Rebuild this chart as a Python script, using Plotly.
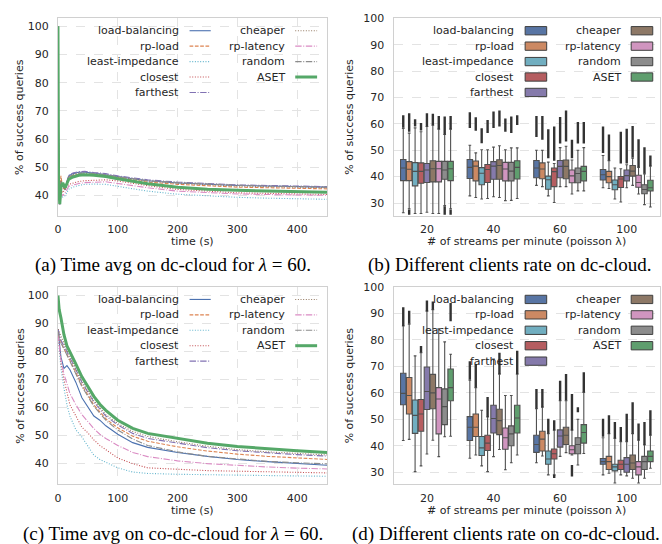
import plotly.graph_objects as go

W, H = 662, 544

methods = ["load-balancing", "rp-load", "least-impedance", "closest", "farthest",
           "cheaper", "rp-latency", "random", "ASET"]
line_colors = ["#4C72B0", "#DD8452", "#64B5CD", "#C44E52", "#8172B3",
               "#937860", "#DA8BC3", "#8C8C8C", "#55A868"]
box_colors = ["#5875A4", "#CC8963", "#71AEC0", "#B55D60", "#857AAB",
              "#8D7866", "#D095BF", "#8C8C8C", "#5F9E6E"]
line_dashes = ["solid", "3.7px,1.6px", "1px,1.65px", "1px,1.65px", "6.4px,1.6px,1px,1.6px",
               "1px,1.65px", "6.4px,1.6px,1px,1.6px", "6.4px,1.6px,1px,1.6px", "solid"]
line_widths = [1.1, 1.1, 1.1, 1.1, 1.1, 1.1, 1.1, 1.1, 3.0]

rate_labels = ["20", "40", "60", "100"]

# ---------------- (a) time average on dc-cloud ----------------
time_a = [0, 1, 3, 5, 8, 12, 18, 25, 35, 45, 60, 80, 100, 125, 150, 200, 250, 300, 350, 400, 450]
a_load_balancing = [100, 60, 41, 45, 43.5, 42, 47, 47.8, 48.3, 48.3, 48, 47.5, 46.8, 46, 45.3, 44.5, 44, 43.6, 43.4, 43.2, 43.0]
a_rp_load = [100, 56, 42, 47, 42.5, 42.5, 46.5, 47.2, 47.6, 47.6, 47.4, 47, 46.3, 45.5, 44.8, 44, 43.4, 43, 42.8, 42.6, 42.4]
a_least_impedance = [100, 46, 36.5, 40, 39.5, 40, 42.3, 43, 43.6, 44, 44.1, 44, 43.3, 42.4, 41.6, 40.5, 39.9, 39.4, 39.1, 38.9, 38.7]
a_closest = [100, 50, 38, 42, 41, 42.5, 44, 44.5, 45, 45.3, 45.5, 45.6, 45.2, 44.3, 43.5, 42.2, 41.5, 41, 40.8, 40.6, 40.4]
a_farthest = [100, 58, 40, 44, 44, 43, 47.2, 48, 48.5, 48.6, 48.2, 47.8, 47, 46.3, 45.6, 44.8, 44.2, 43.8, 43.6, 43.4, 43.2]
a_cheaper = [100, 57, 41, 46, 43, 42.5, 46.8, 47.5, 48, 48, 47.7, 47.3, 46.6, 45.8, 45.2, 44.4, 43.8, 43.4, 43.2, 43, 42.8]
a_rp_latency = [100, 48, 36.5, 41, 40, 41, 43.3, 43.8, 44.3, 44.6, 44.8, 44.9, 44.3, 43.5, 42.8, 41.6, 41, 40.6, 40.4, 40.2, 40.1]
a_random = [100, 55, 40, 45, 43.5, 43, 46.6, 47.3, 47.8, 48, 47.8, 47.4, 46.7, 46, 45.3, 44.6, 44.1, 43.7, 43.4, 43.2, 43.0]
a_aset = [100, 45, 37, 43, 44.5, 42.8, 45.8, 46.6, 47.2, 47.4, 47.2, 46.8, 46, 45, 44.2, 43, 42.3, 41.9, 41.6, 41.4, 41.2]

# ---------------- (c) time average on co-dc-cloud ----------------
time_c = [0, 2, 5, 10, 15, 20, 30, 40, 50, 60, 70, 80, 100, 125, 150, 200, 250, 300, 350, 400, 450]
c_load_balancing = [88, 84, 78, 74, 75, 73.5, 69, 63.5, 60, 57, 55.5, 53.5, 50.5, 47.5, 45.8, 44, 42.6, 41.5, 40.7, 40, 39.4]
c_rp_load = [86, 85, 83, 81, 79, 77, 72.5, 68, 64.5, 61, 58.5, 56, 52.8, 49.8, 48, 46, 44.5, 43.4, 42.6, 42, 41.5]
c_least_impedance = [86, 80, 74, 67, 61, 57, 52, 49.5, 46, 43, 41.5, 40.5, 38.5, 37, 36.5, 36.2, 36, 35.8, 35.7, 35.6, 35.5]
c_closest = [88, 82, 76, 70, 66, 61, 57, 53, 51, 48.5, 46.5, 45, 42, 40, 38.5, 38, 37.5, 37.3, 37.1, 36.9, 36.7]
c_farthest = [88, 86, 84, 82, 80, 78, 73.5, 69, 65.5, 62, 59.5, 57, 53.8, 50.8, 49, 47.3, 45.7, 44.6, 43.8, 43.2, 42.7]
c_cheaper = [88, 87, 85, 83, 80.5, 78.5, 74, 69.5, 66, 62.5, 60, 57.5, 54.3, 51.5, 49.7, 47.8, 46.2, 45, 44.2, 43.6, 43.1]
c_rp_latency = [86, 82, 77, 72, 68, 65, 61, 57.5, 55, 52.5, 50.5, 49, 46.5, 44, 42.5, 41, 40, 39.3, 38.8, 38.4, 38.1]
c_random = [87, 85, 83, 81, 78.5, 76.5, 72, 67.5, 64, 60.5, 58, 55.5, 52, 48.8, 46.5, 44.2, 42.6, 41.6, 40.8, 40.3, 39.9]
c_aset = [100, 95, 92, 86, 82, 80, 75.5, 71, 67.3, 64, 61.2, 59, 55.5, 52.6, 50.8, 49.1, 47.3, 46.1, 45.3, 44.6, 44.0]

# ---------------- (b) box stats on dc-cloud (rows: methods, cols: rates) ----------------
b_q1 = [[38.5, 39.3, 39.6, 38.7], [38.5, 38.4, 39.2, 37.7], [36.5, 36.9, 35.2, 35.0],
        [37.5, 37.8, 36.2, 35.9], [37.8, 39.0, 39.6, 38.4], [38.0, 39.0, 39.2, 40.2],
        [38.0, 38.4, 37.7, 36.0], [39.0, 38.4, 37.7, 33.5], [38.5, 39.1, 38.4, 34.6]]
b_med = [[43.3, 43.5, 43.3, 40.7], [42.8, 44.0, 42.9, 40.0], [42.0, 41.3, 38.8, 36.9],
         [42.0, 42.7, 41.9, 39.1], [42.5, 44.0, 43.9, 40.4], [43.0, 44.2, 43.9, 42.1],
         [43.0, 42.9, 40.3, 37.8], [42.5, 42.1, 41.2, 35.1], [43.0, 43.5, 42.0, 35.8]]
b_q3 = [[46.5, 46.5, 46.1, 42.7], [45.7, 45.9, 45.2, 42.0], [45.3, 43.4, 40.2, 38.7],
        [45.2, 44.6, 43.3, 40.0], [45.0, 45.7, 46.1, 42.5], [46.0, 46.4, 46.3, 44.2],
        [45.8, 45.4, 42.5, 40.5], [45.8, 45.4, 43.3, 36.9], [45.8, 46.0, 43.9, 38.6]]
b_lo = [[26.3, 32.7, 36.7, 35.8], [27.8, 32.1, 36.2, 35.5], [26.0, 31.5, 32.7, 31.5],
        [26.0, 31.7, 30.2, 30.4], [26.5, 32.4, 36.2, 35.8], [26.0, 32.1, 36.2, 36.7],
        [26.0, 30.9, 33.4, 33.4], [29.0, 31.0, 34.6, 29.4], [27.8, 31.7, 34.6, 28.5]]
b_hi = [[58.3, 51.9, 50.0, 48.0], [56.5, 49.0, 50.0, 46.0], [58.5, 50.2, 45.5, 43.3],
        [57.0, 50.2, 45.0, 43.0], [59.0, 51.2, 51.0, 44.5], [59.5, 51.7, 51.5, 47.0],
        [58.0, 50.2, 46.3, 43.5], [56.0, 50.9, 50.0, 41.0], [58.0, 50.9, 51.0, 44.0]]
b_out_hi = [[(58.5, 63.3), (58.4, 64.4), (55, 63), (49, 59)],
            [(57, 64), (57.4, 62.5), (54, 63), (46, 56)],
            [(59, 61.8), (52.7, 58.3), (47, 58), None],
            [(57.5, 60.3), (56.5, 61.5), (46, 59), (45, 57)],
            [(59, 64), (58.4, 64.7), (52.6, 62.6), (45, 58.2)],
            [(59.5, 63.8), (59, 65.1), (53.3, 65.1), (47.3, 59.2)],
            [(58, 63), (57, 62), (47, 54), (43.6, 54.2)],
            [(56, 62.8), (56.5, 62.8), (52.6, 60.7), (41.1, 51.1)],
            [(58, 63), (59.6, 63.3), (52.6, 60.7), (44, 48)]]
b_out_lo = [[None, None, None, None], [(25.5, 27.5), None, None, None],
            [None, None, None, None], [None, None, None, None],
            [None, None, None, None], [None, None, None, None],
            [None, None, None, None], [(25.5, 28.8), None, None, None],
            [(25.5, 27.5), None, None, None]]

# ---------------- (d) box stats on co-dc-cloud ----------------
d_q1 = [[55.5, 42, 37.5, 33], [52, 43.5, 38, 31], [44.7, 36.3, 33, 30.5],
        [45.5, 38.2, 35, 31], [53.7, 44.8, 39.5, 30], [54, 44.2, 40.5, 31],
        [44.5, 38.7, 37, 29], [48, 40, 37, 31], [57, 44.8, 41, 34]]
d_med = [[59.8, 47, 40.5, 34], [59, 47, 42.5, 34], [51.5, 39.2, 35, 32],
         [52, 41, 37, 33], [60.5, 50.3, 43.7, 33], [60, 49.5, 44, 33.5],
         [57.7, 43, 38.5, 32], [54.8, 44.5, 40.5, 34], [62, 50.5, 45, 36]]
d_q3 = [[67.4, 51, 44, 35.2], [65.8, 52, 45.5, 36], [57.3, 43.5, 38, 33],
        [57.5, 44, 38.8, 34.5], [69.8, 55.3, 46, 35.5], [67, 53.8, 47, 36.5],
        [62, 46.7, 40, 34], [61.5, 47.5, 43, 36], [69, 55.3, 48, 38]]
d_lo = [[42, 35.3, 33.6, 29], [42.4, 36.5, 36.1, 29.6], [30.2, 32.4, 29, 25.9],
        [32.4, 30.2, 29, 29], [36.9, 35.9, 36, 28.6], [42.1, 38.6, 37.4, 27.7],
        [35.9, 30.9, 36.5, 25.9], [43.4, 33.6, 32.7, 27.7], [43.6, 36.5, 37.1, 31.5]]
d_hi = [[85.3, 64.8, 54, 43], [86, 62, 54.6, 44.6], [74, 53.4, 44.6, 42.8],
        [75.2, 50.9, 45.9, 41.5], [90.9, 72.8, 57, 41.5], [91.5, 67.1, 57, 44.6],
        [84.2, 59, 45.9, 42.1], [79.3, 59, 50, 40.3], [74.6, 67.1, 60.2, 44]]
d_out_hi = [[(85.3, 92.4), (65, 72), (54, 61.5), (43.4, 50.2)],
            [(86.1, 91.1), (62.1, 70.9), (54.6, 61.5), (44.6, 51.5)],
            [None, None, (44.6, 50.2), (42.8, 49)],
            [(75.2, 77.7), (50.9, 58.4), (45.9, 49.6), (41.5, 47.1)],
            [(90.9, 94.9), None, (57, 64.6), (41.5, 52.1)],
            [(91.5, 94.6), (67.1, 75.2), (57.1, 67.1), (44.6, 56.5)],
            [None, None, (45.9, 59.6), (42.1, 48.4)],
            [None, None, (52.7, 54.6), (40.3, 49)],
            [(87.1, 94), (67.1, 75.9), (60.2, 67.8), (44, 53.4)]]
d_out_lo = [[None, None, None, None], [None, None, None, None],
            [None, None, None, None], [None, None, (27.8, 29), None],
            [None, None, None, None], [None, None, None, None],
            [None, None, (28.4, 32.7), None], [None, None, None, None],
            [None, None, None, None]]

captions = ["(a) Time avg on dc-cloud for <i>λ</i> = 60.",
            "(b) Different clients rate on dc-cloud.",
            "(c) Time avg on co-dc-cloud for <i>λ</i> = 60.",
            "(d) Different clients rate on co-dc-cloud."]

a_series = [a_load_balancing, a_rp_load, a_least_impedance, a_closest, a_farthest,
            a_cheaper, a_rp_latency, a_random, a_aset]
c_series = [c_load_balancing, c_rp_load, c_least_impedance, c_closest, c_farthest,
            c_cheaper, c_rp_latency, c_random, c_aset]

# ---------------- layout geometry (pixels) ----------------
def px(x):
    return x / W

def py(y):
    return 1 - y / H

LEFT_X = (54.3, 325.0)
RIGHT_X = (392.0, 660.0)
TOP_Y = (12.0, 212.0)
BOT_Y = (283.7, 483.7)

TXT = "#262626"
FONT = "DejaVu Sans"
GRID = "#e3e3e3"
SPINE = "#d0d0d0"

fig = go.Figure()

# line panels
for series, times, xa, ya in [(a_series, time_a, "x", "y"), (c_series, time_c, "x3", "y3")]:
    for m, vals in enumerate(series):
        fig.add_trace(go.Scatter(x=times, y=vals, mode="lines", xaxis=xa, yaxis=ya,
                                 line=dict(color=line_colors[m], dash=line_dashes[m],
                                           width=line_widths[m]),
                                 showlegend=False, hoverinfo="skip"))

# box panels
n = len(methods)
step = 0.8 / n
for q1, med, q3, lo, hi, ohi, olo, xa, ya in [
        (b_q1, b_med, b_q3, b_lo, b_hi, b_out_hi, b_out_lo, "x2", "y2"),
        (d_q1, d_med, d_q3, d_lo, d_hi, d_out_hi, d_out_lo, "x4", "y4")]:
    for m in range(n):
        pos = [g + (m - (n - 1) / 2) * step for g in range(len(rate_labels))]
        fig.add_trace(go.Box(x=pos, q1=q1[m], median=med[m], q3=q3[m],
                             lowerfence=lo[m], upperfence=hi[m],
                             width=step * 0.92, whiskerwidth=0.5,
                             fillcolor=box_colors[m],
                             line=dict(color="#505050", width=1.1),
                             boxpoints=False, xaxis=xa, yaxis=ya,
                             showlegend=False, hoverinfo="skip"))
        sx, sy = [], []
        for g in range(len(rate_labels)):
            for rng in (ohi[m][g], olo[m][g]):
                if rng is not None:
                    sx += [pos[g], pos[g], None]
                    sy += [rng[0], rng[1], None]
        if sx:
            fig.add_trace(go.Scatter(x=sx, y=sy, mode="lines", xaxis=xa, yaxis=ya,
                                     line=dict(color="#333333", width=2.4),
                                     showlegend=False, hoverinfo="skip"))

axis_common = dict(showline=True, mirror=True, linecolor=SPINE, linewidth=1.2,
                   gridcolor=GRID, griddash="dash", gridwidth=1, zeroline=False,
                   ticks="", tickfont=dict(family=FONT, size=11, color=TXT))

fig.update_layout(
    width=W, height=H, autosize=False,
    margin=dict(l=0, r=0, t=0, b=0),
    paper_bgcolor="white", plot_bgcolor="white",
    showlegend=False,
    xaxis=dict(domain=[px(LEFT_X[0]), px(LEFT_X[1])], range=[0, 450], anchor="y",
               tickvals=[0, 100, 200, 300, 400], ticklabelstandoff=3, **axis_common),
    yaxis=dict(domain=[py(TOP_Y[1]), py(TOP_Y[0])], range=[32.9, 103], anchor="x",
               tickvals=[40, 50, 60, 70, 80, 90, 100], ticklabelstandoff=6, **axis_common),
    xaxis2=dict(domain=[px(RIGHT_X[0]), px(RIGHT_X[1])], range=[-0.5, 3.5], anchor="y2",
                tickvals=[0, 1, 2, 3], ticktext=rate_labels, showgrid=False,
                ticklabelstandoff=3, **axis_common),
    yaxis2=dict(domain=[py(TOP_Y[1]), py(TOP_Y[0])], range=[25.2, 100.2], anchor="x2",
                tickvals=[30, 40, 50, 60, 70, 80, 90, 100], ticklabelstandoff=6, **axis_common),
    xaxis3=dict(domain=[px(LEFT_X[0]), px(LEFT_X[1])], range=[0, 450], anchor="y3",
                tickvals=[0, 100, 200, 300, 400], ticklabelstandoff=3, **axis_common),
    yaxis3=dict(domain=[py(BOT_Y[1]), py(BOT_Y[0])], range=[32.6, 103.2], anchor="x3",
                tickvals=[40, 50, 60, 70, 80, 90, 100], ticklabelstandoff=6, **axis_common),
    xaxis4=dict(domain=[px(RIGHT_X[0]), px(RIGHT_X[1])], range=[-0.5, 3.5], anchor="y4",
                tickvals=[0, 1, 2, 3], ticktext=rate_labels, showgrid=False,
                ticklabelstandoff=3, **axis_common),
    yaxis4=dict(domain=[py(BOT_Y[1]), py(BOT_Y[0])], range=[25.4, 100.2], anchor="x4",
                tickvals=[30, 40, 50, 60, 70, 80, 90, 100], ticklabelstandoff=6, **axis_common),
)

annotations = []
shapes = []

# axis titles
for (x0, x1), (y0, y1), dy, xt, yoff in [(LEFT_X, TOP_Y, 0, "time (s)", 38),
                                         (RIGHT_X, TOP_Y, 0, "# of streams per minute (poisson λ)", 44),
                                         (LEFT_X, BOT_Y, 271.7, "time (s)", 38),
                                         (RIGHT_X, BOT_Y, 271.7, "# of streams per minute (poisson λ)", 44)]:
    annotations.append(dict(text=xt, x=px((x0 + x1) / 2), y=py(238.3 + dy), xref="paper", yref="paper",
                            xanchor="center", yanchor="middle", showarrow=False,
                            font=dict(family=FONT, size=11, color=TXT)))
    annotations.append(dict(text="% of success queries", x=px(x0 - yoff), y=py((y0 + y1) / 2),
                            xref="paper", yref="paper", textangle=-90,
                            xanchor="center", yanchor="middle", showarrow=False,
                            font=dict(family=FONT, size=11, color=TXT)))

# captions
for cap, cx, cy in zip(captions, [170.5, 508.5, 170.0, 505.0], [261.7, 261.7, 533.7, 533.7]):
    annotations.append(dict(text=cap, x=px(cx), y=py(cy), xref="paper", yref="paper",
                            xanchor="center", yanchor="middle", showarrow=False,
                            font=dict(family="Liberation Serif", size=19.0, color="black")))

# legends
row_y = [25.0, 40.6, 56.2, 71.8, 87.4]
for dy, kind in [(0, "line"), (271.7, "line"), (0, "box"), (271.7, "box")]:
    if kind == "line":
        cols = [(177.7, 186.7, 208.0), (285.0, 293.0, 315.0)]
    else:
        cols = [(515.3, 524.3, 546.0), (622.7, 631.0, 652.7)]
    for m, name in enumerate(methods):
        c = 0 if m < 5 else 1
        r = m if m < 5 else m - 5
        tx, sx0, sx1 = cols[c]
        yy = row_y[r] + dy
        annotations.append(dict(text=name, x=px(tx), y=py(yy), xref="paper", yref="paper",
                                xanchor="right", yanchor="middle", showarrow=False,
                                font=dict(family=FONT, size=11, color=TXT)))
        if kind == "line":
            shapes.append(dict(type="line", xref="paper", yref="paper",
                               x0=px(sx0), x1=px(sx1), y0=py(yy), y1=py(yy),
                               line=dict(color=line_colors[m], dash=line_dashes[m],
                                         width=line_widths[m])))
        else:
            shapes.append(dict(type="rect", xref="paper", yref="paper",
                               x0=px(sx0), x1=px(sx1), y0=py(yy - 4.2), y1=py(yy + 4.2),
                               fillcolor=box_colors[m], line=dict(color="#3f3f3f", width=1)))

fig.update_layout(annotations=annotations, shapes=shapes)
fig.write_html("out.html", config={"displayModeBar": False},
               post_script="document.body.style.margin='0px';document.body.style.overflow='hidden';")
